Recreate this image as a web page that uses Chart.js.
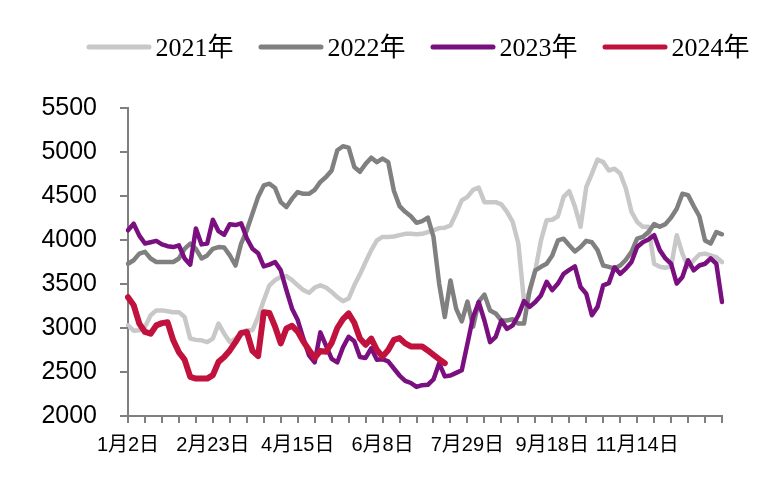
<!DOCTYPE html>
<html>
<head>
<meta charset="utf-8">
<script src="https://cdn.jsdelivr.net/npm/chart.js@4/dist/chart.umd.min.js"></script>
<style>
    html, body { margin: 0; padding: 0; background: #fff; }
</style>
</head>
<body>
<canvas id="priceChart" width="775" height="480"></canvas>
<script>
const POINT_COUNT = 106;
const TICK_EVERY = 3;
const LABEL_EVERY = 15;

const tickLabels = ['1月2日', '2月23日', '4月15日', '6月8日', '7月29日', '9月18日', '11月14日'];
const seriesNames = ['2021年', '2022年', '2023年', '2024年'];

const values2021 = [
    3030, 2970, 2975, 3010, 3145, 3200, 3200, 3190, 3180, 3180,
    3125, 2880, 2865, 2860, 2840, 2880, 3050, 2935, 2840, 2880,
    2930, 2975, 2975, 3125, 3315, 3485, 3545, 3580, 3590, 3545,
    3485, 3430, 3400, 3460, 3485, 3460, 3410, 3350, 3305, 3335,
    3485, 3610, 3750, 3885, 3995, 4035, 4035, 4040, 4055, 4070,
    4070, 4065, 4070, 4090, 4110, 4135, 4140, 4165, 4300, 4450,
    4490, 4570, 4595, 4430, 4430, 4430, 4405, 4320, 4205, 3960,
    3300, 3410, 3655, 3995, 4225, 4230, 4270, 4490, 4555, 4380,
    4150, 4600, 4755, 4915, 4885, 4790, 4810, 4755, 4585, 4320,
    4205, 4150, 4150, 3730, 3695, 3685, 3700, 4055, 3845, 3695,
    3770, 3835, 3845, 3825, 3805, 3750
];

const values2022 = [
    3730, 3770, 3845, 3865, 3790, 3750, 3750, 3750, 3750, 3790,
    3900, 3960, 3900, 3790, 3825, 3900, 3920, 3915, 3825, 3710,
    3960, 4110, 4300, 4490, 4620, 4640, 4590, 4430, 4375, 4470,
    4545, 4525, 4525, 4570, 4660, 4715, 4790, 5020, 5065, 5050,
    4830, 4775, 4865, 4935, 4885, 4925, 4885, 4560, 4385, 4320,
    4270, 4195, 4215, 4255, 4035, 3505, 3125, 3540, 3220, 3075,
    3300, 3015, 3300, 3380, 3200, 3165, 3085, 3085, 3100, 3050,
    3050, 3430, 3655, 3695, 3730, 3825, 3995, 4015, 3940, 3870,
    3920, 3990, 3975, 3885, 3710, 3695, 3675, 3710, 3775, 3865,
    4015, 4035, 4090, 4180, 4150, 4180, 4255, 4355, 4525, 4510,
    4385, 4270, 3995, 3960, 4090, 4065
];

const values2023 = [
    4110, 4185, 4050, 3960, 3975, 3990, 3950, 3930, 3920, 3940,
    3790, 3720, 4130, 3950, 3960, 4230, 4100, 4060, 4180, 4170,
    4190, 4020, 3900, 3850, 3700, 3720, 3750, 3655, 3430, 3220,
    3090, 2880, 2690, 2610, 2950, 2800, 2650, 2610, 2780, 2900,
    2850, 2670, 2660, 2770, 2640, 2645, 2620, 2540, 2460, 2400,
    2375, 2330, 2350, 2355, 2415, 2600, 2450, 2460, 2490, 2520,
    2820, 3125, 3295, 3085, 2840, 2900, 3085, 2990, 3030, 3145,
    3305, 3240, 3295, 3370, 3525, 3430, 3505, 3615, 3660, 3700,
    3465, 3390, 3145, 3240, 3485, 3510, 3690, 3615, 3675, 3750,
    3920, 3975, 4005, 4055, 3885, 3790, 3730, 3505, 3580, 3770,
    3655, 3710, 3730, 3790, 3730, 3295
];

const values2024 = [
    3350, 3260, 3050, 2955, 2935, 3030, 3055, 3065, 2860, 2725,
    2640, 2445, 2425, 2425, 2425, 2465, 2615, 2670, 2745, 2840,
    2945, 2955, 2740, 2680, 3180, 3170, 3015, 2825, 2995, 3025,
    2960, 2845, 2750, 2660, 2740, 2730, 2830, 3000, 3100, 3165,
    3060, 2880, 2810, 2880, 2750, 2675, 2750, 2865, 2885, 2825,
    2790, 2790, 2790, 2745, 2695, 2645, 2600
];

const categories = Array.from({ length: POINT_COUNT }, (_, i) => i);

const AXIS_COLOR = '#7f7f7f';
const SANS = '"Liberation Sans", "Noto Sans CJK SC", sans-serif';

// legend drawn by hand so the row can sit where the original has it
const topLegend = {
    id: 'topLegend',
    afterDraw(chart) {
        const ctx = chart.ctx;
        const lineLen = 65;
        const gap = 4;
        const itemGap = 25;
        const centerX = 418;
        const lineY = 47;
        const textY = 56;

        ctx.save();
        ctx.font = '26px "Liberation Serif", "Noto Sans CJK SC", serif';
        ctx.textBaseline = 'alphabetic';

        const items = chart.data.datasets.map((ds) => ({
            text: ds.label,
            color: ds.borderColor,
            width: ctx.measureText(ds.label).width
        }));
        const total = items.reduce((sum, it) => sum + lineLen + gap + it.width, 0) + itemGap * (items.length - 1);

        let x = centerX - total / 2;
        items.forEach((it) => {
            ctx.strokeStyle = it.color;
            ctx.lineWidth = 5;
            ctx.lineCap = 'round';
            ctx.beginPath();
            ctx.moveTo(x + 2.5, lineY);
            ctx.lineTo(x + lineLen - 2.5, lineY);
            ctx.stroke();
            x += lineLen + gap;
            ctx.fillStyle = '#000';
            ctx.fillText(it.text, x, textY);
            x += it.width + itemGap;
        });
        ctx.restore();
    }
};

// outward tick marks on both axes, spaced from the chart area
// (getPixelForValue on the numeric category labels gave nothing usable)
const axisTicks = {
    id: 'axisTicks',
    afterDraw(chart) {
        const ctx = chart.ctx;
        const ys = chart.scales.y;
        const area = chart.chartArea;
        const step = (area.right - area.left) / (POINT_COUNT - 1);
        ctx.save();
        ctx.lineWidth = 2;
        ctx.strokeStyle = AXIS_COLOR;
        ctx.beginPath();
        for (let i = 0; i < POINT_COUNT; i += TICK_EVERY) {
            const px = Math.round(area.left + i * step);
            ctx.moveTo(px, area.bottom);
            ctx.lineTo(px, area.bottom + 7);
        }
        for (let v = ys.min; v <= ys.max; v += 500) {
            const py = Math.round(ys.getPixelForValue(v));
            ctx.moveTo(area.left, py);
            ctx.lineTo(area.left - 8, py);
        }
        ctx.stroke();
        ctx.restore();
    }
};

function makeLine(label, data, color, width, order) {
    return {
        label: label,
        data: data,
        borderColor: color,
        backgroundColor: color,
        borderWidth: width,
        pointRadius: 0,
        tension: 0,
        fill: false,
        borderJoinStyle: 'round',
        borderCapStyle: 'round',
        order: order
    };
}

const ctx = document.getElementById('priceChart').getContext('2d');
new Chart(ctx, {
    type: 'line',
    data: {
        labels: categories,
        datasets: [
            makeLine(seriesNames[0], values2021, '#c8c8c8', 4.5, 3),
            makeLine(seriesNames[1], values2022, '#808080', 4.5, 2),
            makeLine(seriesNames[2], values2023, '#7a0f80', 4.5, 1),
            makeLine(seriesNames[3], values2024, '#c0123c', 6, 0)
        ]
    },
    options: {
        responsive: false,
        animation: false,
        devicePixelRatio: 1,
        layout: { padding: { top: 108, right: 53, left: 0, bottom: 0 } },
        plugins: {
            legend: { display: false },
            tooltip: { enabled: false }
        },
        scales: {
            x: {
                type: 'category',
                offset: false,
                border: { display: true, color: AXIS_COLOR, width: 2 },
                grid: {
                    drawOnChartArea: false,
                    drawTicks: true,
                    tickLength: 7,
                    color: 'rgba(0,0,0,0)'
                },
                ticks: {
                    autoSkip: false,
                    maxRotation: 0,
                    padding: 10,
                    color: '#000',
                    font: { family: SANS, size: 20 },
                    callback: (value, index) => {
                        if (index % TICK_EVERY !== 0) {
                            return null;
                        }
                        if (index % LABEL_EVERY === 0) {
                            return tickLabels[index / LABEL_EVERY] || '';
                        }
                        return '';
                    }
                },
                afterFit: (scale) => { scale.height = 64; }
            },
            y: {
                min: 2000,
                max: 5500,
                border: { display: true, color: AXIS_COLOR, width: 2 },
                grid: {
                    drawOnChartArea: false,
                    drawTicks: true,
                    tickLength: 8,
                    color: 'rgba(0,0,0,0)'
                },
                ticks: {
                    stepSize: 500,
                    padding: 23,
                    color: '#000',
                    font: { family: SANS, size: 25 },
                    callback: (value) => String(value)
                },
                afterFit: (scale) => { scale.width = 128; }
            }
        }
    },
    plugins: [topLegend, axisTicks]
});
</script>
</body>
</html>
